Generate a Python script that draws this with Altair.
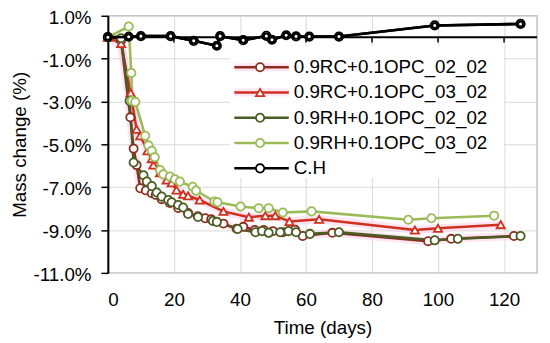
import altair as alt
import pandas as pd

series_names = ["0.9RC+0.1OPC_02_02", "0.9RC+0.1OPC_03_02",
                "0.9RH+0.1OPC_02_02", "0.9RH+0.1OPC_03_02", "C.H"]
series_colors = ["#8c2d1e", "#d0301e", "#4a5e23", "#9bbb59", "#000000"]
series_shapes = ["circle", "triangle-up", "circle", "circle", "circle"]
series_sizes = [68, 72, 68, 68, 26]

rc02_days = [0, 4, 6.8, 7.8, 8.7, 9.8, 11.5, 13.3, 14.5, 16.3, 18.8, 21.3, 24.3,
             27.3, 29.5, 31.3, 35, 39, 41, 44.5, 47.2, 50, 53, 56.7, 59, 68, 97, 104, 123]
rc02_vals = [0, -0.15, -3.74, -5.2, -5.97, -7.05, -7.15, -7.28, -7.36, -7.56, -7.74, -7.97, -8.2,
             -8.36, -8.45, -8.5, -8.7, -8.94, -8.85, -9.0, -9.0, -9.05, -9.1, -8.98, -9.28, -9.13,
             -9.52, -9.41, -9.28]

rc03_days = [0, 4, 6.9, 8.7, 9.8, 12, 13.3, 13.8, 15.8, 17.8, 19.3, 20.8, 22.8, 24.3,
             27.8, 35, 42.7, 47.7, 50.7, 55, 64, 93, 100, 119]
rc03_vals = [0, -0.3, -2.6, -4.3, -4.6, -5.3, -5.67, -5.97, -6.33, -6.67, -6.8, -7.13, -7.33, -7.4,
             -7.6, -8.13, -8.4, -8.33, -8.33, -8.6, -8.5, -9.0, -8.92, -8.75]

rh02_days = [0, 4, 6.6, 7.8, 10.8, 11.8, 13.3, 14.8, 16.3, 18.3, 19.3, 21.3, 22.8, 24.3,
             27.3, 31.8, 33, 39.3, 44.7, 46.7, 48.7, 52.2, 54.7, 57, 61.2, 70, 99, 106, 125]
rh02_vals = [0, -0.05, -2.97, -5.85, -6.44, -6.74, -6.95, -7.25, -7.44, -7.6, -7.7, -7.83, -7.95, -8.25,
             -8.39, -8.58, -8.62, -8.95, -9.1, -9.05, -9.13, -9.1, -9.05, -9.1, -9.18, -9.1,
             -9.48, -9.41, -9.28]

rh03_days = [0, 6.3, 7.1, 7.3, 8.3, 11.3, 12.3, 13.3, 14.2, 15.8, 16.8, 18.8, 20.3, 21.8,
             25.7, 26.7, 32.3, 33.2, 40.2, 45.7, 48.7, 53, 61.7, 91, 98, 117]
rh03_vals = [0, 0.5, -1.67, -2.97, -3.02, -4.6, -5.05, -5.3, -5.6, -6.2, -6.4, -6.5, -6.63, -6.74,
             -6.98, -7.16, -7.67, -7.7, -7.9, -7.98, -7.98, -8.18, -8.13, -8.52, -8.45, -8.33]

ch_days = [0, 6.3, 10, 19, 26, 33, 34, 41, 48, 49.7, 54, 57, 61, 70, 99, 125]
ch_vals = [0, 0.02, 0.05, 0.05, -0.17, -0.4, 0.05, -0.14, 0.06, -0.12, 0.09, 0.04, 0.03, 0.03, 0.55, 0.62]

x_ticks = [0, 20, 40, 60, 80, 100, 120]
y_ticks = [1, -1, -3, -5, -7, -9, -11]

all_days = [rc02_days, rc03_days, rh02_days, rh03_days, ch_days]
all_vals = [rc02_vals, rc03_vals, rh02_vals, rh03_vals, ch_vals]

rows = []
for name, ds, vs in zip(series_names, all_days, all_vals):
    for i, (d, v) in enumerate(zip(ds, vs)):
        rows.append({"series": name, "day": d, "pct": v, "idx": i})
df = pd.DataFrame(rows)

# legend placement (in data units of the chart's own scales)
leg_top, leg_step = -1.40, 1.18
leg = pd.DataFrame({
    "series": series_names,
    "x0": [38.3] * 5, "x1": [54.8] * 5, "xm": [46.1] * 5, "xt": [56.3] * 5,
    "y": [leg_top - i * leg_step for i in range(5)],
})
leg_box = pd.DataFrame({"x0": [36.9], "x1": [120.0], "y0": [-0.43], "y1": [-6.57]})
zero_line = pd.DataFrame({"x0": [0], "x1": [130], "y": [0]})
tick_df = pd.DataFrame({"x": x_ticks[1:], "y0": [0] * 6, "y1": [-0.25] * 6})

FS = 19
xs = alt.Scale(domain=[0, 130], nice=False, zero=False)
ys = alt.Scale(domain=[-11, 1], nice=False, zero=False)
cs = alt.Scale(domain=series_names, range=series_colors)
ss = alt.Scale(domain=series_names, range=series_shapes)
zs = alt.Scale(domain=series_names, range=series_sizes)

X = alt.X("day:Q", scale=xs, axis=alt.Axis(
    values=x_ticks, title="Time (days)", grid=True, gridColor="#d9d9d9", domain=False,
    ticks=False, labelFontSize=FS, labelColor="black", labelPadding=18,
    titleFontSize=FS, titleFontWeight="normal", titleColor="black", titlePadding=9))
Y = alt.Y("pct:Q", scale=ys, axis=alt.Axis(
    values=y_ticks, title="Mass change (%)",
    labelExpr="(datum.value < 0 ? '-' : '') + format(abs(datum.value), '.1f') + '%'",
    grid=True, gridColor="#d9d9d9", domainColor="black", domainWidth=2,
    tickColor="black", tickSize=7, tickWidth=1.5, labelFontSize=FS, labelColor="black",
    labelPadding=10, labelOffset=1.5, titleFontSize=FS, titleFontWeight="normal",
    titleColor="black", titlePadding=4))

base = alt.Chart(df)
rc_only = alt.FieldOneOfPredicate(field="series", oneOf=series_names[:2])

glow = base.transform_filter(rc_only).mark_line(
    strokeWidth=8, color="#ffcdea", opacity=0.55, strokeCap="round").encode(
    x=X, y=Y, detail="series:N", order="idx:Q")

lines = base.mark_line(strokeWidth=2.6).encode(
    x=X, y=Y, color=alt.Color("series:N", scale=cs, legend=None), order="idx:Q")

marks = base.mark_point(filled=True, opacity=1, strokeWidth=1.8).encode(
    x=X, y=Y,
    stroke=alt.Stroke("series:N", scale=cs, legend=None),
    fill=alt.value("white"),
    shape=alt.Shape("series:N", scale=ss, legend=None),
    size=alt.Size("series:N", scale=zs, legend=None))

zl = alt.Chart(zero_line).mark_rule(color="black", strokeWidth=2).encode(
    x=alt.X("x0:Q", scale=xs), x2="x1:Q", y=alt.Y("y:Q", scale=ys))
zt = alt.Chart(tick_df).mark_rule(color="black", strokeWidth=1.5).encode(
    x=alt.X("x:Q", scale=xs), y=alt.Y("y0:Q", scale=ys), y2="y1:Q")

ch_only = alt.FieldEqualPredicate(field="series", equal="C.H")
ch_line = base.transform_filter(ch_only).mark_line(strokeWidth=2.6, color="black").encode(
    x=X, y=Y, order="idx:Q")
ch_marks = base.transform_filter(ch_only).mark_point(
    filled=True, opacity=1, strokeWidth=2, fill="white", stroke="black", size=26).encode(x=X, y=Y)

box = alt.Chart(leg_box).mark_rect(fill="white").encode(
    x=alt.X("x0:Q", scale=xs), x2="x1:Q", y=alt.Y("y0:Q", scale=ys), y2="y1:Q")
lb = alt.Chart(leg)
leg_glow = lb.transform_filter(rc_only).mark_rule(
    strokeWidth=8, color="#ffd6ef", opacity=0.6).encode(
    x=alt.X("x0:Q", scale=xs), x2="x1:Q", y=alt.Y("y:Q", scale=ys))
leg_lines = lb.mark_rule(strokeWidth=2.6).encode(
    x=alt.X("x0:Q", scale=xs), x2="x1:Q", y=alt.Y("y:Q", scale=ys),
    color=alt.Color("series:N", scale=cs, legend=None))
leg_marks = lb.mark_point(filled=True, opacity=1, strokeWidth=1.8).encode(
    x=alt.X("xm:Q", scale=xs), y=alt.Y("y:Q", scale=ys),
    stroke=alt.Stroke("series:N", scale=cs, legend=None),
    fill=alt.value("white"),
    shape=alt.Shape("series:N", scale=ss, legend=None),
    size=alt.Size("series:N", scale=zs, legend=None))
leg_text = lb.mark_text(align="left", baseline="middle", fontSize=FS, color="black",
                        font="Liberation Sans").encode(
    x=alt.X("xt:Q", scale=xs), y=alt.Y("y:Q", scale=ys), text="series:N")

chart = alt.layer(
    glow, lines, marks, zl, zt, ch_line, ch_marks,
    box, leg_glow, leg_lines, leg_marks, leg_text
).properties(
    width=434, height=260,
    autosize=alt.AutoSizeParams(type="none"),
    padding={"left": 101, "top": 6, "right": 5, "bottom": 66},
).configure(font="Liberation Sans").configure_view(stroke="#bfbfbf", strokeWidth=1.5)

chart.save("out.html", embed_options={"renderer": "svg", "actions": False})
